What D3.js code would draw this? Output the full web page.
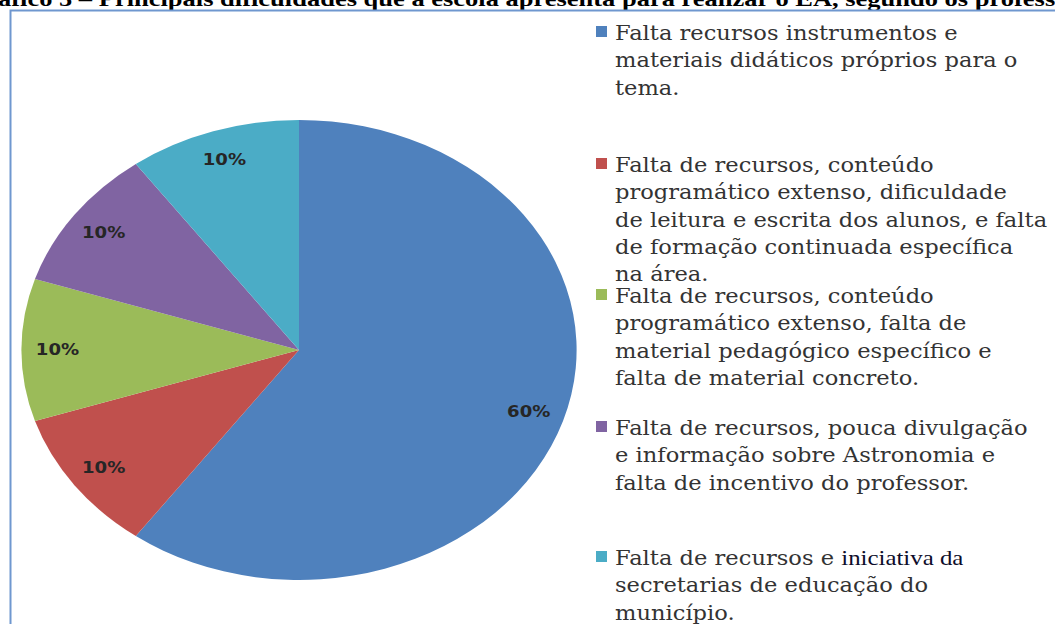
<!DOCTYPE html>
<html>
<head>
<meta charset="utf-8">
<script src="https://cdn.jsdelivr.net/npm/d3@7"></script>
<style>
  body { margin: 0; background: #fff; }
  svg { display: block; }
</style>
</head>
<body>
<div id="chart"></div>
<script>
var width = 1055;
var height = 624;

// data
var title = 'Gráfico 5 – Principais dificuldades que a escola apresenta para realizar o EA, segundo os professores';
var categories = [
  'Falta recursos instrumentos e materiais didáticos próprios para o tema.',
  'Falta de recursos, conteúdo programático extenso, dificuldade de leitura e escrita dos alunos, e falta de formação continuada específica na área.',
  'Falta de recursos, conteúdo programático extenso, falta de material pedagógico específico e falta de material concreto.',
  'Falta de recursos, pouca divulgação e informação sobre Astronomia e falta de incentivo do professor.',
  'Falta de recursos e iniciativa da secretarias de educação do município.'
];
var values = [60, 10, 10, 10, 10];
var colors = ['#4F81BD', '#C0504D', '#9BBB59', '#8064A2', '#4BACC6'];
// legend lines as wrapped in the original
var legendLines = [
  ['Falta recursos instrumentos e', 'materiais didáticos próprios para o', 'tema.'],
  ['Falta de recursos, conteúdo', 'programático extenso, dificuldade', 'de leitura e escrita dos alunos, e falta', 'de formação continuada específica', 'na área.'],
  ['Falta de recursos, conteúdo', 'programático extenso, falta de', 'material pedagógico específico e', 'falta de material concreto.'],
  ['Falta de recursos, pouca divulgação', 'e informação sobre Astronomia e', 'falta de incentivo do professor.'],
  ['Falta de recursos e |iniciativa da', 'secretarias de educação do', 'município.']
];

// the original picture is stretched sideways
var stretch = 1.2;

var svg = d3.select('#chart').append('svg')
    .attr('width', width)
    .attr('height', height);

svg.append('rect')
    .attr('width', width)
    .attr('height', height)
    .attr('fill', '#fff');

// title, cut off by the top edge and on the right
var titleG = svg.append('g');
var titleText = titleG.append('text')
    .attr('y', 6)
    .style('font-family', '"Liberation Serif", serif')
    .style('font-weight', 'bold')
    .style('font-size', '21px')
    .attr('fill', '#000')
    .text(title);
var node = titleText.node();
var cut = node.getSubStringLength(0, 2);
var visEnd = title.indexOf('profess') + 7;
var visLen = node.getSubStringLength(2, visEnd - 2);
var k = 1058 / visLen;
titleText.attr('x', -cut);
titleG.attr('transform', 'translate(-2,0) scale(' + k + ',1)');

// frame
svg.append('path')
    .attr('d', 'M10.5,' + height + 'V10.5H' + width)
    .attr('fill', 'none')
    .attr('stroke', '#6f97cf')
    .attr('stroke-width', 2);

// pie
var radius = 230;
var pie = d3.pie().sort(null).value(function(d) { return d; });
var arc = d3.arc().innerRadius(0).outerRadius(radius);
var labelArc = d3.arc().innerRadius(radius * 0.87).outerRadius(radius * 0.87);

var g = svg.append('g')
    .attr('transform', 'translate(299,350) scale(1.207,1)');

var slices = g.selectAll('.slice')
    .data(pie(values))
    .enter().append('g')
    .attr('class', 'slice');

slices.append('path')
    .attr('d', arc)
    .attr('fill', function(d, i) { return colors[i]; });

slices.append('text')
    .attr('transform', function(d) { return 'translate(' + labelArc.centroid(d) + ')'; })
    .attr('text-anchor', 'middle')
    .attr('dy', '0.35em')
    .style('font-family', '"DejaVu Sans", sans-serif')
    .style('font-weight', 'bold')
    .style('font-size', '15px')
    .attr('fill', '#262626')
    .text(function(d) { return d.data + '%'; });

// legend
var legendX = 596;
var legendY = [40, 172, 303, 435, 565];
var lineH = 27.3;

var legend = svg.selectAll('.legend')
    .data(legendLines)
    .enter().append('g')
    .attr('class', 'legend')
    .attr('transform', function(d, i) { return 'translate(' + legendX + ',' + legendY[i] + ')'; });

legend.append('rect')
    .attr('x', 0)
    .attr('y', -14)
    .attr('width', 11)
    .attr('height', 11)
    .attr('fill', function(d, i) { return colors[i]; });

legend.each(function(lines) {
  var t = d3.select(this).append('text')
      .attr('transform', 'translate(19,0) scale(1.13,1)')
      .style('font-family', '"DejaVu Serif", serif')
      .style('font-size', '20px')
      .attr('fill', '#333');
  lines.forEach(function(line, j) {
    var parts = line.split('|');
    t.append('tspan')
        .attr('x', 0)
        .attr('y', j * lineH)
        .text(parts[0]);
    if (parts.length > 1) {
      t.append('tspan')
          .attr('fill', '#0d0d2a')
          .style('font-family', '"Liberation Serif", serif')
          .style('font-size', '22px')
          .text(parts[1]);
    }
  });
});
</script>
</body>
</html>
